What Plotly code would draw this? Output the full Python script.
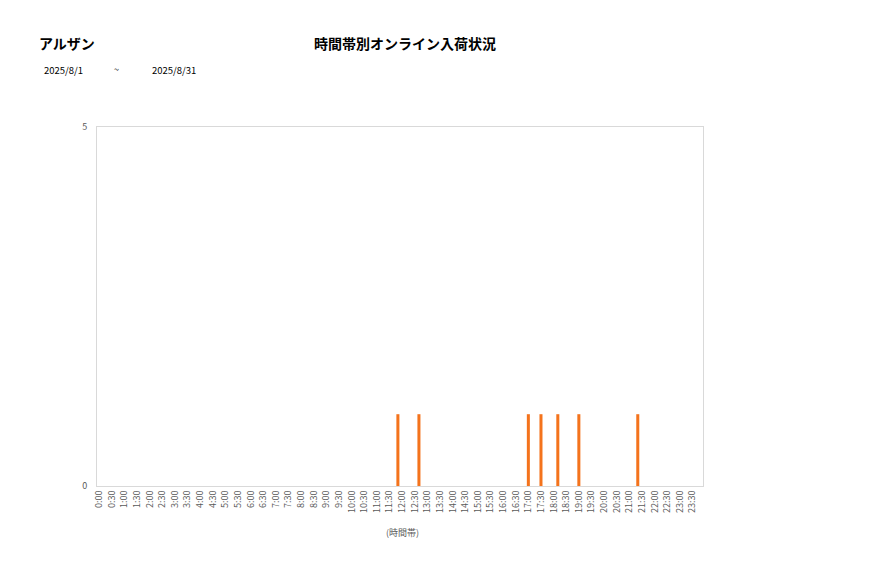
import plotly.graph_objects as go

# 10-minute bins over the day
bins = [f"{m // 60}:{m % 60:02d}" for m in range(0, 1440, 10)]
# bins with arrivals (count)
arrival_bins = ["11:50", "12:40", "17:00", "17:30", "18:10", "19:00", "21:20"]
arrival_counts = [1, 1, 1, 1, 1, 1, 1]
counts = [0] * len(bins)
for b, c in zip(arrival_bins, arrival_counts):
    counts[bins.index(b)] = c
tick_labels = bins[::3]

store = "アルザン"
title = "時間帯別オンライン入荷状況"
date_from = "2025/8/1"
date_to = "2025/8/31"
x_title = "(時間帯)"

fig = go.Figure()
fig.add_trace(go.Bar(x=bins, y=counts, marker_color="#F4731C",
                     marker_line_width=0, width=0.72))

font = "Noto Sans CJK JP"
fig.update_layout(
    width=877, height=578,
    margin=dict(l=89, r=182, t=119, b=100),
    paper_bgcolor="white", plot_bgcolor="white",
    showlegend=False,
    font=dict(family=font, color="#404040"),
)
fig.update_xaxes(
    type="category", categoryorder="array", categoryarray=bins,
    tickmode="array", tickvals=tick_labels, ticktext=tick_labels,
    tickangle=-90, tickfont=dict(size=9, color="#595959"),
    showline=True, linecolor="#D9D9D9", mirror=True, showgrid=False,
    ticks="", ticklen=0,
)
fig.update_yaxes(
    range=[0, 5], tickvals=[0, 5], tickfont=dict(size=9, color="#595959"),
    showline=True, linecolor="#D9D9D9", mirror=True, showgrid=False,
    zeroline=False, ticks="", ticklen=0, ticklabelstandoff=7,
)
anns = [
    dict(text=store, x=37, y=43, size=14, color="#000000", xanchor="left", weight=600),
    dict(text=title, x=405, y=43, size=14, color="#000000", xanchor="center", weight=600),
    dict(text=date_from, x=42, y=70, size=9.5, color="#000000", xanchor="left", weight=400),
    dict(text="~", x=116, y=70, size=9, color="#000000", xanchor="center", weight=400),
    dict(text=date_to, x=150, y=70, size=9.5, color="#000000", xanchor="left", weight=400),
    dict(text=x_title, x=402, y=532, size=9, color="#595959", xanchor="center", weight=400),
]
for a in anns:
    fig.add_annotation(
        text=a["text"], xref="paper", yref="paper",
        x=(a["x"] - 97) / (703 - 97), y=(486 - a["y"]) / (486 - 127),
        xanchor=a["xanchor"], yanchor="middle", showarrow=False,
        font=dict(size=a["size"], color=a["color"], family=font, weight=a["weight"]),
    )
fig.write_html("out.html")
